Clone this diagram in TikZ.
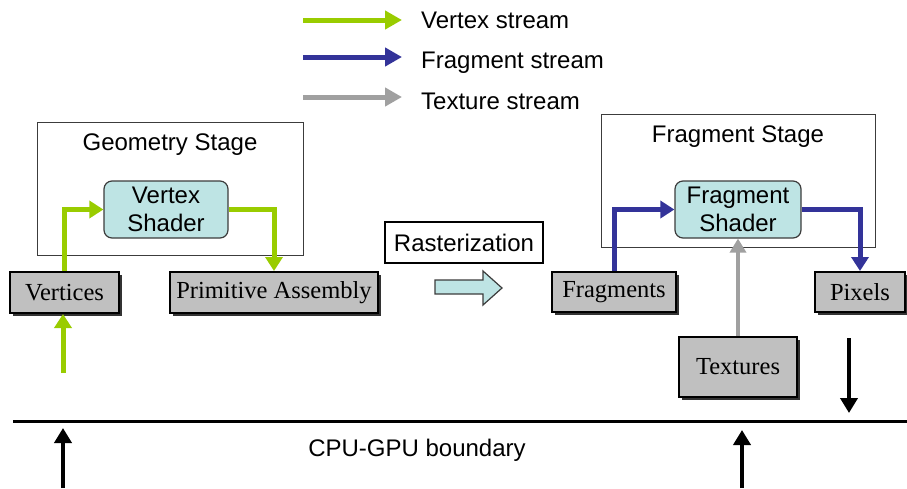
\documentclass[tikz,border=0pt]{standalone}
\usepackage{fontspec}
\setmainfont{Liberation Sans}
\newfontfamily\timesfont{Liberation Serif}
\usetikzlibrary{arrows.meta,shadows,calc}

\definecolor{vgreen}{RGB}{153,204,0}
\definecolor{fblue}{RGB}{51,51,153}
\definecolor{tgray}{RGB}{160,160,160}
\definecolor{shadecyan}{RGB}{190,228,228}
\definecolor{boxgray}{RGB}{192,192,192}
\definecolor{framegray}{RGB}{60,60,60}

\begin{document}
\begin{tikzpicture}[x=1pt,y=-1pt,
  every node/.style={inner sep=0pt, font=\fontsize{24}{28}\selectfont},
  stagebox/.style={draw=framegray, line width=1pt},
  shaderbox/.style={draw=framegray, line width=1.2pt, fill=shadecyan,
    rounded corners=8pt, align=center},
  databox/.style={draw=black, line width=2pt, fill=boxgray,
    font=\fontsize{24.5}{28}\selectfont\timesfont,
    general shadow={shadow xshift=3pt, shadow yshift=-3pt, fill=black!80}},
  vflow/.style={draw=vgreen, line width=5pt, -{Triangle[length=14pt,width=17pt]}},
  fflow/.style={draw=fblue, line width=5pt, -{Triangle[length=14pt,width=17pt]}},
  tflow/.style={draw=tgray, line width=4pt, -{Triangle[length=14pt,width=16pt]}},
  ioflow/.style={draw=black, line width=4pt, -{Triangle[length=15pt,width=17pt]}},
  legflow/.style={line width=5pt, -{Triangle[length=17pt,width=18pt]}}
]
\useasboundingbox (0,0) rectangle (907,488);

% legend
\coordinate (lg1) at (303,20);  \coordinate (lg1e) at (402,20);
\coordinate (lg2) at (303,57);  \coordinate (lg2e) at (402,57);
\coordinate (lg3) at (303,97);  \coordinate (lg3e) at (402,97);
\draw[legflow, draw=vgreen] (lg1) -- (lg1e);
\draw[legflow, draw=fblue] (lg2) -- (lg2e);
\draw[legflow, draw=tgray] (lg3) -- (lg3e);
\node[anchor=base west] (lt1) at (421,28) {Vertex stream};
\node[anchor=base west] (lt2) at (421,68) {Fragment stream};
\node[anchor=base west] (lt3) at (421,109) {Texture stream};

% geometry stage
\node[stagebox, minimum width=266pt, minimum height=133pt] (geo) at (170,188.5) {};
\node (geot) at (170,145) {Geometry Stage};
\node[shaderbox, minimum width=124pt, minimum height=57pt] (vs) at (166,209.5) {Vertex\\Shader};
\node[databox, minimum width=109pt, minimum height=41pt] (vert) at (64.5,292.5) {Vertices};
\node[databox, minimum width=208pt, minimum height=41pt] (prim) at (274,292.5) {Primitive Assembly};

% rasterization label and block arrow
\node[draw=black, line width=1.2pt, minimum width=158pt, minimum height=41pt] (rast) at (464,242.5) {Rasterization};
\draw[draw=framegray, line width=1.2pt, fill=shadecyan, line join=miter]
  (435,280) -- (483,280) -- (483,271) -- (502,288) -- (483,305) -- (483,294) -- (435,294) -- cycle;

% fragment stage
\node[stagebox, minimum width=274pt, minimum height=133pt] (fst) at (738,180.5) {};
\node (fstt) at (738,137) {Fragment Stage};
\node[shaderbox, minimum width=126pt, minimum height=57pt] (fs) at (738,209.5) {Fragment\\Shader};
\node[databox, minimum width=124pt, minimum height=40pt] (frags) at (614,292) {Fragments};
\node[databox, minimum width=90pt, minimum height=40pt] (pix) at (860,292) {Pixels};
\node[databox, minimum width=118pt, minimum height=60pt] (tex) at (738,367) {Textures};

% streams
\draw[vflow] (vert.north) |- (vs.west);
\draw[vflow] (vs.east) -| (prim.north);
\coordinate (vin) at (63,373);
\draw[vflow] (vin) -- (vin |- vert.south);
\draw[fflow] (frags.north) |- (fs.west);
\draw[fflow] (fs.east) -| (pix.north);
\draw[tflow] (tex.north) -- (fs.south);

% CPU-GPU boundary
\coordinate (bl) at (13,421);
\coordinate (br) at (907,421);
\draw[line width=3pt] (bl) -- (br);
\node (bt) at (417,450) {CPU-GPU boundary};
\coordinate (cpu1) at (63,488);   \coordinate (cpu1e) at (63,428);
\coordinate (cpu2) at (742,488);  \coordinate (cpu2e) at (742,430);
\coordinate (out1) at (849,338);  \coordinate (out1e) at (849,413);
\draw[ioflow] (cpu1) -- (cpu1e);
\draw[ioflow] (cpu2) -- (cpu2e);
\draw[ioflow] (out1) -- (out1e);
\end{tikzpicture}
\end{document}
